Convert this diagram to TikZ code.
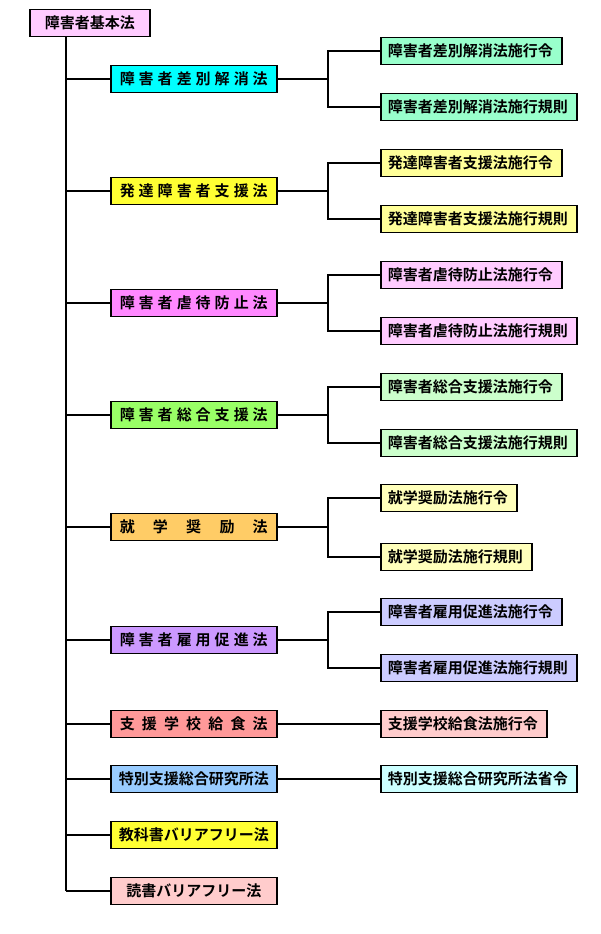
\documentclass[tikz,border=0pt]{standalone}
\usepackage{fontspec}
\setmainfont{Noto Sans CJK JP}[BoldFont={Noto Sans CJK JP Bold}]
\newcommand{\hs}{\hfill}
\begin{document}
\begin{tikzpicture}[x=1pt,y=-1pt,
  box/.style={draw=black,line width=1.5pt,inner sep=0pt,minimum height=27pt,font=\bfseries\fontsize{15}{15}\selectfont,anchor=west},
  mid/.style={box,minimum width=166pt},
  sp/.style={mid,text width=148pt,align=justify},
  kid/.style={box,inner xsep=7pt,align=left},
  ln/.style={line width=1.5pt}]
\useasboundingbox (0,0) rectangle (600,934);
\definecolor{c1}{HTML}{00FFFF}\definecolor{c2}{HTML}{FFFF33}\definecolor{c3}{HTML}{FF88FF}
\definecolor{c4}{HTML}{99FF66}\definecolor{c5}{HTML}{FFCC66}\definecolor{c6}{HTML}{CC99FF}
\definecolor{c7}{HTML}{FF9999}\definecolor{c8}{HTML}{99CCFF}\definecolor{c9}{HTML}{FFFF33}
\definecolor{c10}{HTML}{FFCCCC}
\definecolor{k1}{HTML}{99FFCC}\definecolor{k2}{HTML}{FFFF99}\definecolor{k3}{HTML}{FFCCFF}
\definecolor{k4}{HTML}{CCFFCC}\definecolor{k5}{HTML}{FFFFBB}\definecolor{k6}{HTML}{CCCCFF}
\definecolor{k7}{HTML}{FFCCCC}\definecolor{k8}{HTML}{CCFFFF}\definecolor{rt}{HTML}{FFCCFF}
\node[box,fill=rt,minimum width=120pt] (root) at (29,23) {障害者基本法};
\coordinate (tb) at (66,891);
\draw[ln] (root.south -| tb) -- (tb);
\node[sp,fill=c1] (m1) at (110,79) {障\hs 害\hs 者\hs 差\hs 別\hs 解\hs 消\hs 法};
\node[sp,fill=c2] (m2) at (110,191) {発\hs 達\hs 障\hs 害\hs 者\hs 支\hs 援\hs 法};
\node[sp,fill=c3] (m3) at (110,303) {障\hs 害\hs 者\hs 虐\hs 待\hs 防\hs 止\hs 法};
\node[sp,fill=c4] (m4) at (110,415) {障\hs 害\hs 者\hs 総\hs 合\hs 支\hs 援\hs 法};
\node[sp,fill=c5] (m5) at (110,527) {就\hs 学\hs 奨\hs 励\hs 法};
\node[sp,fill=c6] (m6) at (110,640) {障\hs 害\hs 者\hs 雇\hs 用\hs 促\hs 進\hs 法};
\node[sp,fill=c7] (m7) at (110,724) {支\hs 援\hs 学\hs 校\hs 給\hs 食\hs 法};
\node[mid,fill=c8] (m8) at (110,779) {特別支援総合研究所法};
\node[mid,fill=c9] (m9) at (110,835) {教科書バリアフリー法};
\node[mid,fill=c10] (m10) at (110,891) {読書バリアフリー法};
\foreach \m in {m1,m2,m3,m4,m5,m6,m7,m8,m9,m10}
  \draw[ln] (tb |- \m.west) -- (\m.west);
\node[kid,fill=k1,text width=167pt] (a1) at (380,51) {障害者差別解消法施行令};
\node[kid,fill=k1,text width=182pt] (b1) at (380,107) {障害者差別解消法施行規則};
\node[kid,fill=k2,text width=167pt] (a2) at (380,163) {発達障害者支援法施行令};
\node[kid,fill=k2,text width=182pt] (b2) at (380,219) {発達障害者支援法施行規則};
\node[kid,fill=k3,text width=167pt] (a3) at (380,275) {障害者虐待防止法施行令};
\node[kid,fill=k3,text width=182pt] (b3) at (380,331) {障害者虐待防止法施行規則};
\node[kid,fill=k4,text width=167pt] (a4) at (380,387) {障害者総合支援法施行令};
\node[kid,fill=k4,text width=182pt] (b4) at (380,443) {障害者総合支援法施行規則};
\node[kid,fill=k5,text width=122pt] (a5) at (380,498) {就学奨励法施行令};
\node[kid,fill=k5,text width=137pt] (b5) at (380,557) {就学奨励法施行規則};
\node[kid,fill=k6,text width=167pt] (a6) at (380,612) {障害者雇用促進法施行令};
\node[kid,fill=k6,text width=182pt] (b6) at (380,668) {障害者雇用促進法施行規則};
\node[kid,fill=k7,text width=152pt] (a7) at (380,724) {支援学校給食法施行令};
\node[kid,fill=k8,text width=182pt] (a8) at (380,779) {特別支援総合研究所法省令};
\foreach \i in {1,...,6}{
  \coordinate (j\i) at (328,0);
  \draw[ln] (m\i.east) -- (j\i |- m\i.east);
  \draw[ln] (a\i.west) -| (j\i |- b\i.west) -- (b\i.west);}
\draw[ln] (m7.east) -- (a7.west);
\draw[ln] (m8.east) -- (a8.west);
\end{tikzpicture}
\end{document}
